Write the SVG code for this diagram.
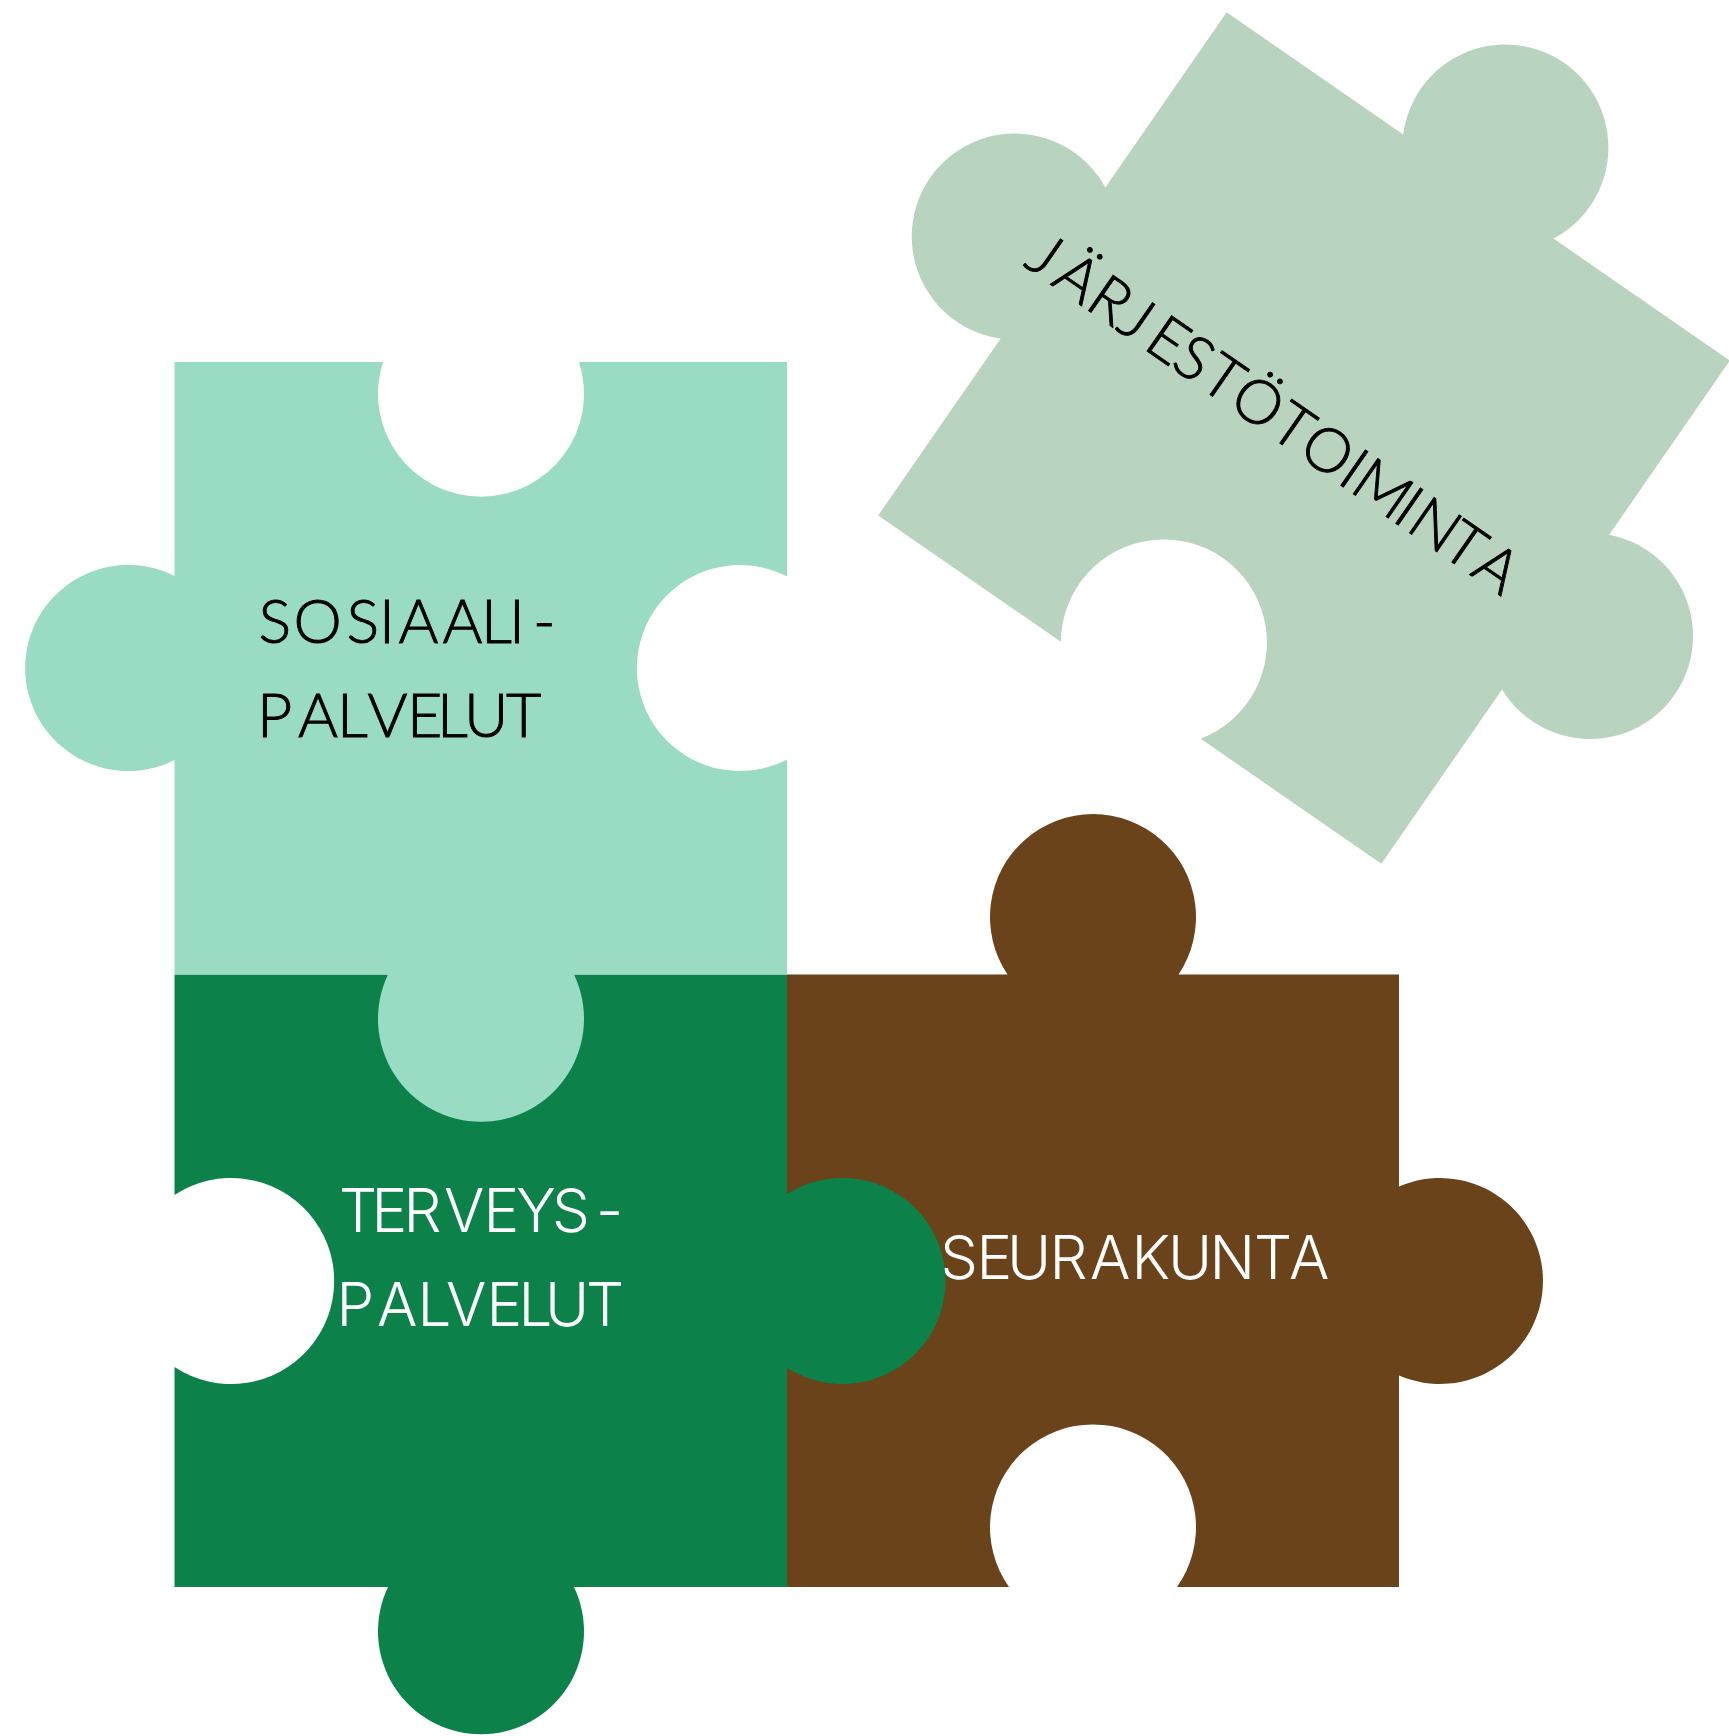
<svg xmlns="http://www.w3.org/2000/svg" width="1729" height="1736" viewBox="0 0 1729 1736">
<style>
text{font-family:"Inter","Liberation Sans",sans-serif;font-size:60px;font-weight:300}
.k{fill:#000;stroke:#000;stroke-width:.9;font-family:"Lato","Liberation Sans",sans-serif;font-size:61px;font-weight:300}
.w{fill:#fff}
</style>
<rect width="1729" height="1736" fill="#fff"/>
<g id="seurakunta">
<path fill="#6A431B" d="M787 974.5H1007.5A103 103 0 1 1 1178.5 974.5H1399V1186.5A103 103 0 1 1 1399 1375.5V1587H1177A103 103 0 1 0 1009 1587H787Z"/>
<text class="w" x="940 976.5 1007 1049.5 1090 1131.5 1168 1209.5 1254 1289" y="1278.5">SEURAKUNTA</text>
</g>
<g id="terveyspalvelut">
<path fill="#0C824A" d="M174.5 974.5H787V1194.2A103 103 0 1 1 787 1367.8V1587H574A103 103 0 1 1 388 1587H174.5V1367A103 103 0 1 0 174.5 1195Z"/>
<text class="w" x="339 371.5 403.5 444 483.5 516 552 596" y="1232">TERVEYS-</text>
<text class="w" x="336.5 377 417.5 446 486.5 518.5 545 586" y="1326">PALVELUT</text>
</g>
<g id="sosiaalipalvelut">
<path fill="#9ADBC3" d="M174.5 362H383A103 103 0 1 0 579 362H787V576.4A103 103 0 1 0 787 759.6V974.5H574A103 103 0 1 1 388 974.5H174.5V760A103 103 0 1 1 174.5 576Z"/>
<text class="k" x="258.5 293.5 346.5 379 398.5 442.5 481 509 533" y="643">SOSIAALI-</text>
<text class="k" x="257 298 337 367.5 407 437 464 506" y="737">PALVELUT</text>
</g>
<g id="jarjestotoiminta" transform="translate(1304 438) rotate(34.7)">
<path fill="#B9D4BE" d="M-306 -306H-91.2A103 103 0 1 1 91.6 -306H306V-94.2A103 103 0 1 1 306 94V306H86.2A103 103 0 1 0 -83.8 306H-306V90.9A103 103 0 1 1 -306 -92.9Z"/>
<text class="k" x="-330 -297 -256 -218 -185 -152 -118 -82 -33 2.5 50.7 66 117.8 134.5 176 213" y="18">JÄRJESTÖTOIMINTA</text>
</g>
</svg>
